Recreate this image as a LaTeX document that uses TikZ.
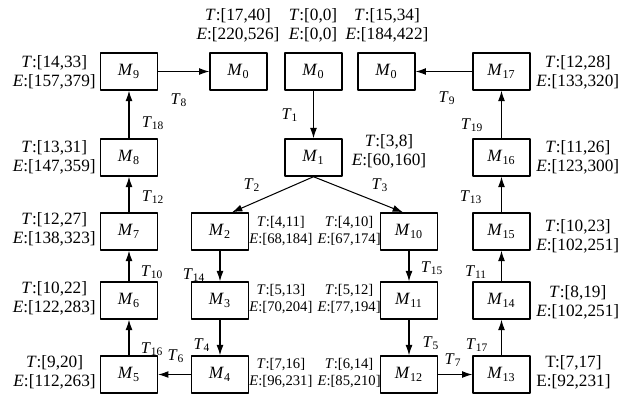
\documentclass[tikz,border=0pt]{standalone}
\usepackage{fontspec}
\setmainfont{Liberation Serif}
\usetikzlibrary{arrows.meta, calc}

\newcommand{\mk}[1]{\textit{M}\textsubscript{#1}}
\newcommand{\tr}[1]{\textit{T}\textsubscript{#1}}
\newcommand{\te}[2]{\textit{T}:[#1]\\\textit{E}:[#2]}

\begin{document}
\begin{tikzpicture}[x=0.58pt, y=-0.58pt, line join=round,
  place/.style={draw, line width=0.8pt, minimum width=33pt, minimum height=21.5pt, inner sep=0pt, font=\fontsize{10}{11}\selectfont},
  info/.style={align=center, inner sep=0pt, font=\fontsize{10}{11}\selectfont},
  infosmall/.style={align=center, inner sep=0pt, font=\fontsize{8.5}{9.6}\selectfont},
  trans/.style={inner sep=0pt, font=\fontsize{9.5}{10}\selectfont},
  arc/.style={-{Latex[length=6pt,width=4pt]}, line width=0.6pt}]

\useasboundingbox (0,0) rectangle (627,393);

% Markings (places)
\node[place] (m9)  at (129,71.5) {\mk{9}};
\node[place] (m0a) at (238.5,71.5) {\mk{0}};
\node[place] (m0b) at (313.5,71.5) {\mk{0}};
\node[place] (m0c) at (386.5,71.5) {\mk{0}};
\node[place] (m17) at (501.5,71.5) {\mk{17}};

\node[place] (m8)  at (129,157.5) {\mk{8}};
\node[place] (m1)  at (313.5,157.5) {\mk{1}};
\node[place] (m16) at (501.5,157.5) {\mk{16}};

\node[place] (m7)  at (129,231.5) {\mk{7}};
\node[place] (m2)  at (220,231.5) {\mk{2}};
\node[place] (m10) at (409,231.5) {\mk{10}};
\node[place] (m15) at (501.5,231.5) {\mk{15}};

\node[place] (m6)  at (129,300.5) {\mk{6}};
\node[place] (m3)  at (220,300.5) {\mk{3}};
\node[place] (m11) at (409,300.5) {\mk{11}};
\node[place] (m14) at (501.5,300.5) {\mk{14}};

\node[place] (m5)  at (129,374.5) {\mk{5}};
\node[place] (m4)  at (220,374.5) {\mk{4}};
\node[place] (m12) at (409,374.5) {\mk{12}};
\node[place] (m13) at (501.5,374.5) {\mk{13}};

% Time and energy intervals
\node[info] (i0a) at (238,25) {\te{17,40}{220,526}};
\node[info] (i0b) at (313,25) {\te{0,0}{0,0}};
\node[info] (i0c) at (387,25) {\te{15,34}{184,422}};
\node[info] (i1)  at (389,151) {\te{3,8}{60,160}};

\node[info, anchor=east] (i9) at (96,72) {\te{14,33}{157,379}};
\node[info, anchor=east] (i8) at (96,157) {\te{13,31}{147,359}};
\node[info, anchor=east] (i7) at (96,229) {\te{12,27}{138,323}};
\node[info, anchor=east] (i6) at (96,298) {\te{10,22}{122,283}};
\node[info, anchor=east] (i5) at (96,372) {\te{9,20}{112,263}};

\node[info, anchor=west] (i17) at (536,72) {\te{12,28}{133,320}};
\node[info, anchor=west] (i16) at (536,157) {\te{11,26}{123,300}};
\node[info, anchor=west] (i15) at (536,236) {\te{10,23}{102,251}};
\node[info, anchor=west] (i14) at (536,302) {\te{8,19}{102,251}};
\node[info, anchor=west] (i13) at (536,372) {T:[7,17]\\E:[92,231]};

\node[infosmall, anchor=west] (i2) at (249,231) {\te{4,11}{68,184}};
\node[infosmall, anchor=west] (i3) at (249,299) {\te{5,13}{70,204}};
\node[infosmall, anchor=west] (i4) at (249,373) {\te{7,16}{96,231}};
\node[infosmall, anchor=east] (i10) at (381,231) {\te{4,10}{67,174}};
\node[infosmall, anchor=east] (i11) at (381,299) {\te{5,12}{77,194}};
\node[infosmall, anchor=east] (i12) at (381,373) {\te{6,14}{85,210}};

% Transitions
\draw[arc] (m0b) -- (m1);
\draw[arc] (m1.south) -- ($(m2.north)+(12,0)$);
\draw[arc] (m1.south) -- ($(m10.north)+(-6,0)$);
\draw[arc] (m2) -- (m3);
\draw[arc] (m3) -- (m4);
\draw[arc] (m4) -- (m5);
\draw[arc] (m5) -- (m6);
\draw[arc] (m6) -- (m7);
\draw[arc] (m7) -- (m8);
\draw[arc] (m8) -- (m9);
\draw[arc] (m9) -- (m0a);
\draw[arc] (m10) -- (m11);
\draw[arc] (m11) -- (m12);
\draw[arc] (m12) -- (m13);
\draw[arc] (m13) -- (m14);
\draw[arc] (m14) -- (m15);
\draw[arc] (m15) -- (m16);
\draw[arc] (m16) -- (m17);
\draw[arc] (m17) -- (m0c);

% Transition labels
\node[trans] (t1)  at (290,115) {\tr{1}};
\node[trans] (t2)  at (252,185) {\tr{2}};
\node[trans] (t3)  at (380,185) {\tr{3}};
\node[trans] (t4)  at (202,345) {\tr{4}};
\node[trans] (t5)  at (431,343) {\tr{5}};
\node[trans] (t6)  at (176,356) {\tr{6}};
\node[trans] (t7)  at (453,360) {\tr{7}};
\node[trans] (t8)  at (179,100) {\tr{8}};
\node[trans] (t9)  at (447,98) {\tr{9}};
\node[trans] (t10) at (152,272) {\tr{10}};
\node[trans] (t11) at (476,272) {\tr{11}};
\node[trans] (t12) at (153,197) {\tr{12}};
\node[trans] (t13) at (471,197) {\tr{13}};
\node[trans] (t14) at (194,275) {\tr{14}};
\node[trans] (t15) at (432,268) {\tr{15}};
\node[trans] (t16) at (152,349) {\tr{16}};
\node[trans] (t17) at (477,345) {\tr{17}};
\node[trans] (t18) at (153,123) {\tr{18}};
\node[trans] (t19) at (472,125) {\tr{19}};

\end{tikzpicture}
\end{document}
